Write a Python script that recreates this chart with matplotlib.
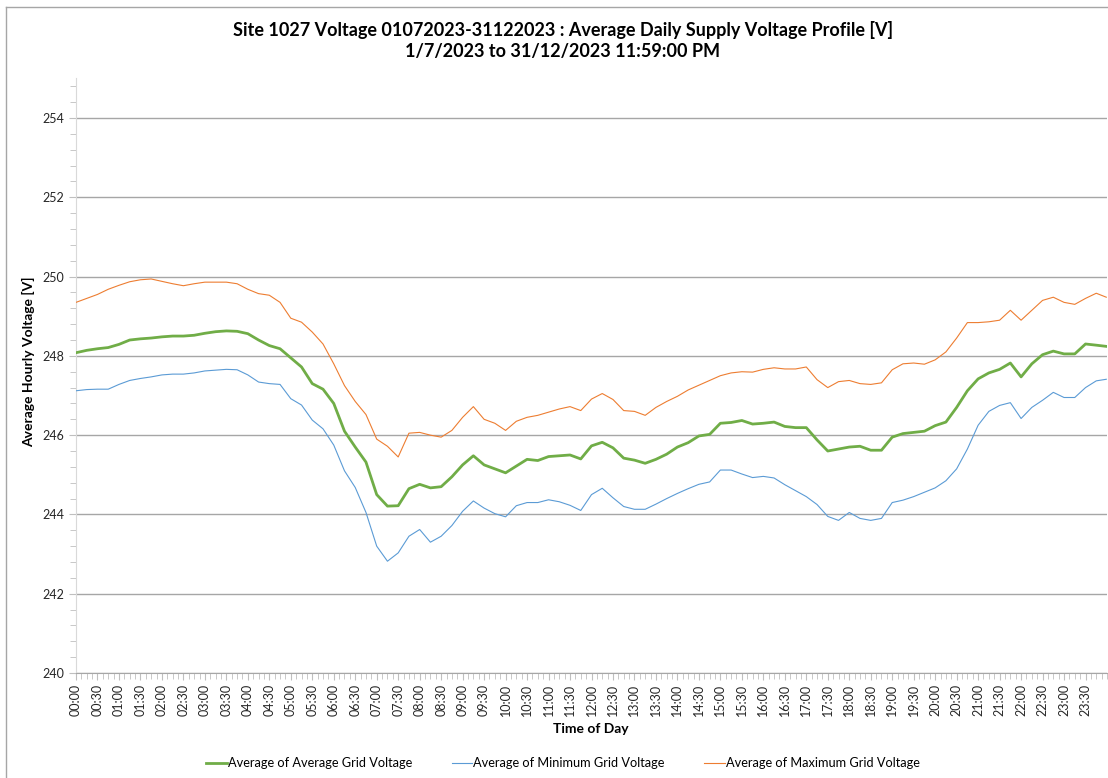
import matplotlib
matplotlib.use("Agg")
import matplotlib.pyplot as plt
from matplotlib.ticker import MultipleLocator, FixedLocator
from matplotlib.lines import Line2D

plt.rcParams['font.family'] = ['Lato', 'DejaVu Sans']

titulo_1 = "Site 1027 Voltage 01072023-31122023 : Average Daily Supply Voltage Profile [V]"
titulo_2 = "1/7/2023 to 31/12/2023 11:59:00 PM"

# minutos desde medianoche, lecturas cada 15 min (la ultima es 23:59)
minutos = [15 * k for k in range(96)] + [1439]

v_promedio = [
    248.08, 248.14, 248.18, 248.21, 248.29, 248.40, 248.43, 248.45, 248.48, 248.50,
    248.50, 248.52, 248.57, 248.61, 248.63, 248.62, 248.56, 248.40, 248.26, 248.18,
    247.95, 247.72, 247.30, 247.16, 246.80, 246.10, 245.70, 245.32, 244.50, 244.21,
    244.22, 244.65, 244.76, 244.67, 244.70, 244.95, 245.25, 245.48, 245.25, 245.15,
    245.05, 245.22, 245.39, 245.36, 245.46, 245.48, 245.50, 245.40, 245.73, 245.82,
    245.68, 245.42, 245.37, 245.29, 245.39, 245.52, 245.70, 245.81, 245.98, 246.02,
    246.30, 246.32, 246.37, 246.28, 246.30, 246.33, 246.22, 246.19, 246.19, 245.88,
    245.60, 245.65, 245.70, 245.72, 245.62, 245.62, 245.95, 246.04, 246.07, 246.10,
    246.24, 246.33, 246.70, 247.12, 247.42, 247.57, 247.66, 247.82, 247.47, 247.80,
    248.03, 248.12, 248.05, 248.05, 248.30, 248.27, 248.24,
]

v_minimo = [
    247.12, 247.15, 247.16, 247.16, 247.28, 247.38, 247.43, 247.47, 247.52, 247.54,
    247.54, 247.57, 247.62, 247.64, 247.66, 247.65, 247.52, 247.34, 247.30, 247.28,
    246.92, 246.76, 246.38, 246.16, 245.75, 245.10, 244.68, 244.05, 243.20, 242.82,
    243.03, 243.45, 243.62, 243.30, 243.45, 243.72, 244.08, 244.34, 244.16, 244.02,
    243.94, 244.22, 244.30, 244.30, 244.37, 244.32, 244.23, 244.10, 244.50, 244.66,
    244.42, 244.20, 244.13, 244.13, 244.26, 244.40, 244.53, 244.65, 244.76, 244.82,
    245.12, 245.12, 245.02, 244.93, 244.96, 244.92, 244.75, 244.60, 244.45, 244.25,
    243.95, 243.85, 244.05, 243.90, 243.85, 243.90, 244.30, 244.36, 244.45, 244.56,
    244.67, 244.85, 245.15, 245.65, 246.25, 246.60, 246.75, 246.82, 246.42, 246.70,
    246.88, 247.08, 246.95, 246.95, 247.20, 247.37, 247.41,
]

v_maximo = [
    249.35, 249.45, 249.55, 249.68, 249.78, 249.87, 249.92, 249.94, 249.88, 249.82,
    249.77, 249.82, 249.86, 249.86, 249.86, 249.82, 249.68, 249.57, 249.53, 249.35,
    248.95, 248.85, 248.60, 248.30, 247.80, 247.25, 246.85, 246.52, 245.90, 245.72,
    245.45, 246.05, 246.07, 246.00, 245.95, 246.12, 246.45, 246.72, 246.40, 246.30,
    246.12, 246.35, 246.45, 246.50, 246.58, 246.66, 246.72, 246.62, 246.91, 247.05,
    246.90, 246.62, 246.60, 246.50, 246.70, 246.85, 246.98, 247.14, 247.26, 247.38,
    247.50, 247.57, 247.60, 247.59, 247.66, 247.70, 247.67, 247.67, 247.72, 247.40,
    247.20, 247.35, 247.38, 247.30, 247.28, 247.32, 247.65, 247.80, 247.82, 247.79,
    247.90, 248.10, 248.45, 248.84, 248.84, 248.86, 248.90, 249.15, 248.90, 249.15,
    249.40, 249.48, 249.35, 249.30, 249.45, 249.58, 249.48,
]

etiquetas_hora = [f"{h:02d}:{m:02d}" for h in range(24) for m in (0, 30)]
pos_etiquetas = [30 * i for i in range(48)]

W, H = 1108, 778
fig = plt.figure(figsize=(W / 100, H / 100), dpi=100)
ax = fig.add_axes([76 / W, 1 - 673 / H, 1031 / W, (673 - 78.4) / H])

ax.plot(minutos, v_promedio, color='#70AD47', lw=2.0, label='Average of Average Grid Voltage', zorder=4)
ax.plot(minutos, v_minimo, color='#5B9BD5', lw=0.8, label='Average of Minimum Grid Voltage', zorder=3)
ax.plot(minutos, v_maximo, color='#ED7D31', lw=0.8, label='Average of Maximum Grid Voltage', zorder=3)

ax.set_xlim(0, 1440)
ax.set_ylim(240, 255)
ax.yaxis.set_major_locator(FixedLocator(range(240, 256, 2)))
ax.yaxis.set_minor_locator(MultipleLocator(0.4))
ax.xaxis.set_major_locator(FixedLocator(pos_etiquetas))
ax.xaxis.set_minor_locator(MultipleLocator(7.5))
ax.set_xticklabels(etiquetas_hora, rotation=90)
ax.grid(axis='y', which='major', color='#a6a6a6', lw=1)

ax.tick_params(axis='both', which='both', direction='out', color='#bfbfbf', labelsize=9, labelcolor='#262626')
ax.tick_params(axis='both', which='major', length=5)
ax.tick_params(axis='both', which='minor', length=4)
ax.tick_params(axis='x', pad=3)

for lado in ['top', 'right']:
    ax.spines[lado].set_visible(False)
ax.spines['left'].set_color('#d9d9d9')
ax.spines['bottom'].set_color('#a6a6a6')

fig.text(563 / W, 1 - 30 / H, titulo_1, ha='center', va='center', fontsize=13, fontweight='bold')
fig.text(563 / W, 1 - 52 / H, titulo_2, ha='center', va='center', fontsize=13, fontweight='bold')
fig.text(29 / W, 1 - 362 / H, 'Average Hourly Voltage [V]', rotation=90, ha='center', va='center',
         fontsize=10, fontweight='bold')
fig.text(591 / W, 1 - 729 / H, 'Time of Day', ha='center', va='center', fontsize=10, fontweight='bold')

fig.legend(loc='center', bbox_to_anchor=(563 / W, 1 - 763 / H), ncol=3, frameon=False,
           fontsize=9.2, handlelength=1.6, handletextpad=0.1, columnspacing=3.1)

# marco del grafico (solo se ve arriba y a la izquierda)
fig.add_artist(Line2D([6 / W, 6 / W], [0, 1 - 7 / H], transform=fig.transFigure, color='#a6a6a6', lw=1))
fig.add_artist(Line2D([6 / W, 1], [1 - 7 / H, 1 - 7 / H], transform=fig.transFigure, color='#a6a6a6', lw=1))

fig.savefig('out.png', dpi=100)
